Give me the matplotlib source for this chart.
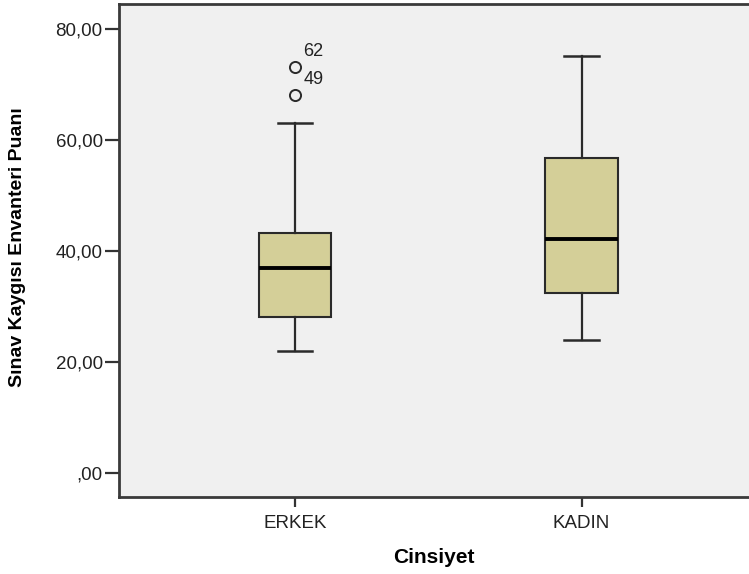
import matplotlib
matplotlib.use("Agg")
import matplotlib.pyplot as plt
from matplotlib import font_manager

# Box statistics
groups = ["ERKEK", "KADIN"]
whisker_low = [22.0, 24.0]
q1 = [28.1, 32.5]
median = [37.0, 42.1]
q3 = [43.2, 56.7]
whisker_high = [63.1, 75.1]
outliers = [[73.1, 68.1], []]
outlier_ids = [["62", "49"], []]

yticks = [0, 20, 40, 60, 80]
ytick_labels = [",00", "20,00", "40,00", "60,00", "80,00"]

names = {f.name for f in font_manager.fontManager.ttflist}
base_font = "Liberation Sans" if "Liberation Sans" in names else "DejaVu Sans"
narrow_font = "Liberation Sans Narrow" if "Liberation Sans Narrow" in names else base_font
plt.rcParams["font.family"] = [base_font, "DejaVu Sans"]

fig = plt.figure(figsize=(7.49, 5.74), dpi=100)
ax = fig.add_axes([119.3 / 749, 77.5 / 574, 1 - 119.3 / 749, (496.5 - 4) / 574])
ax.set_facecolor("#f0f0f0")

stats = []
for i, g in enumerate(groups):
    stats.append({
        "label": g,
        "whislo": whisker_low[i],
        "q1": q1[i],
        "med": median[i],
        "q3": q3[i],
        "whishi": whisker_high[i],
        "fliers": outliers[i],
    })

positions = list(range(1, len(groups) + 1))
ax.bxp(
    stats, positions=positions, widths=0.2525, patch_artist=True,
    boxprops=dict(facecolor="#d4cf98", edgecolor="#2a2a2a", linewidth=1.5),
    medianprops=dict(color="black", linewidth=2.8),
    whiskerprops=dict(color="#2a2a2a", linewidth=1.6),
    capprops=dict(color="#2a2a2a", linewidth=1.8),
    capwidths=0.122,
    flierprops=dict(marker="o", markersize=8, markerfacecolor="none",
                    markeredgecolor="#2a2a2a", markeredgewidth=1.4),
)

for i, pos in enumerate(positions):
    for val, lab in zip(outliers[i], outlier_ids[i]):
        ax.annotate(lab, (pos, val), xytext=(6, 5), textcoords="offset points",
                    fontsize=13, color="#222222", ha="left", va="bottom")

ax.set_xlim(0.387, 2.584)
ax.set_ylim(-4.2, 84.5)
ax.set_yticks(yticks)
ax.set_yticklabels(ytick_labels)
ax.set_xticks(positions)
ax.set_xticklabels(groups)

ax.tick_params(axis="y", length=10, width=1.6, color="#333333", labelsize=13.5,
               labelcolor="#222222", pad=2)
ax.tick_params(axis="x", length=7, width=1.6, color="#333333", labelsize=13.5,
               labelcolor="#222222", pad=6)

for side in ["left", "bottom", "top"]:
    ax.spines[side].set_color("#3a3a3a")
    ax.spines[side].set_linewidth(2)
ax.spines["right"].set_visible(False)

ax.set_xlabel("Cinsiyet", fontsize=15, fontweight="bold", labelpad=12)
fig.text(18 / 749, 1 - 247 / 574, "Sınav Kaygısı Envanteri Puanı", rotation=90,
         fontsize=14, fontweight="bold", family=[narrow_font, "DejaVu Sans"],
         ha="center", va="center")

fig.savefig("out.png", dpi=100)
